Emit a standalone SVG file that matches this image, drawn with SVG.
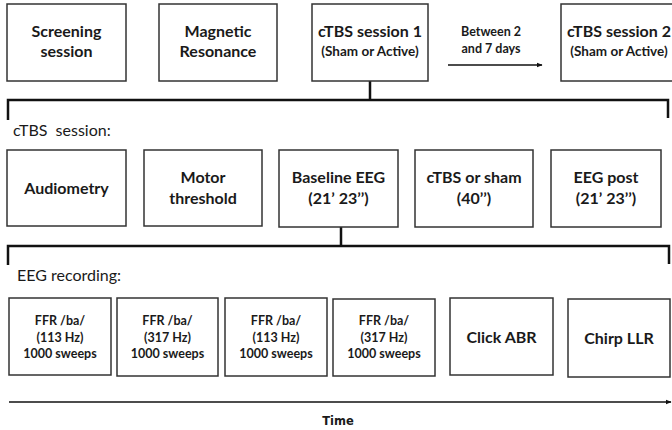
<svg xmlns="http://www.w3.org/2000/svg" width="672" height="430" viewBox="0 0 672 430">
  <defs>
    <style>
      .box { fill: #ffffff; stroke: #333333; stroke-width: 1.5; }
      .lbl { font-family: Lato, "Liberation Sans", sans-serif; font-weight: bold; fill: #1a1a1a; text-anchor: middle; }
      .big { font-size: 16px; }
      .mid { font-size: 13.5px; }
      .sm { font-size: 12.5px; }
      .sec { font-family: Lato, "Liberation Sans", sans-serif; font-size: 16px; fill: #1a1a1a; }
      .brk { fill: none; stroke: #111111; stroke-width: 2.5; }
      .ln { fill: none; stroke: #111111; stroke-width: 1.5; }
    </style>
    <marker id="arrow" viewBox="0 0 10 10" refX="9" refY="5" markerWidth="6" markerHeight="6" orient="auto" markerUnits="userSpaceOnUse">
      <path d="M0,1 L10,5 L0,9 z" fill="#111111"/>
    </marker>
  </defs>
  <rect width="672" height="430" fill="#ffffff"/>

  <!-- connectors -->
  <g id="connectors">
    <line class="ln" x1="448" y1="65" x2="542" y2="65" marker-end="url(#arrow)"/>
    <path class="brk" d="M370,81 V100 M8,120 V100 H668 V118"/>
    <path class="brk" d="M341,227 V246 M8,265 V246 H669 V264"/>
    <line class="ln" x1="9" y1="402" x2="671" y2="402" marker-end="url(#arrow)"/>
  </g>

  <!-- top row -->
  <g id="screening">
    <rect class="box" x="7" y="4" width="119" height="77"/>
    <text class="lbl big" x="66.5" y="37">Screening</text>
    <text class="lbl big" x="66.5" y="57">session</text>
  </g>
  <g id="mri">
    <rect class="box" x="159" y="4" width="118" height="77"/>
    <text class="lbl big" x="218" y="37">Magnetic</text>
    <text class="lbl big" x="218" y="57">Resonance</text>
  </g>
  <g id="ctbs1">
    <rect class="box" x="312" y="4" width="116" height="77"/>
    <text class="lbl big" x="370" y="37">cTBS session 1</text>
    <text class="lbl mid" x="370" y="56">(Sham or Active)</text>
  </g>
  <g id="interval">
    <text class="lbl sm" x="491" y="36">Between 2</text>
    <text class="lbl sm" x="491" y="53">and 7 days</text>
  </g>
  <g id="ctbs2">
    <rect class="box" x="561" y="4" width="116" height="77"/>
    <text class="lbl big" x="619" y="37">cTBS session 2</text>
    <text class="lbl mid" x="619" y="56">(Sham or Active)</text>
  </g>

  <text class="sec" x="13" y="136" font-size="17.5px" xml:space="preserve">cTBS  session:</text>

  <!-- cTBS session row -->
  <g id="audiometry">
    <rect class="box" x="7" y="150" width="119" height="76"/>
    <text class="lbl big" x="66.5" y="194">Audiometry</text>
  </g>
  <g id="motor">
    <rect class="box" x="144" y="150" width="118" height="76"/>
    <text class="lbl big" x="203" y="183">Motor</text>
    <text class="lbl big" x="203" y="204">threshold</text>
  </g>
  <g id="baseline">
    <rect class="box" x="279" y="150" width="119" height="77"/>
    <text class="lbl big" x="338.5" y="183">Baseline EEG</text>
    <text class="lbl big" x="338.5" y="204">(21’ 23’’)</text>
  </g>
  <g id="stim">
    <rect class="box" x="415" y="150" width="118" height="77"/>
    <text class="lbl big" x="474" y="183">cTBS or sham</text>
    <text class="lbl big" x="474" y="204">(40’’)</text>
  </g>
  <g id="post">
    <rect class="box" x="551" y="150" width="110" height="77"/>
    <text class="lbl big" x="606" y="183">EEG post</text>
    <text class="lbl big" x="606" y="204">(21’ 23’’)</text>
  </g>

  <text class="sec" x="17" y="281">EEG recording:</text>

  <!-- EEG recording row -->
  <g id="ffr1">
    <rect class="box" x="9" y="298" width="102" height="77"/>
    <text class="lbl sm" x="60" y="325">FFR /ba/</text>
    <text class="lbl sm" x="60" y="342">(113 Hz)</text>
    <text class="lbl sm" x="60" y="358">1000 sweeps</text>
  </g>
  <g id="ffr2">
    <rect class="box" x="117" y="298" width="101" height="78"/>
    <text class="lbl sm" x="167.5" y="325">FFR /ba/</text>
    <text class="lbl sm" x="167.5" y="342">(317 Hz)</text>
    <text class="lbl sm" x="167.5" y="358">1000 sweeps</text>
  </g>
  <g id="ffr3">
    <rect class="box" x="225" y="298" width="102" height="78"/>
    <text class="lbl sm" x="276" y="325">FFR /ba/</text>
    <text class="lbl sm" x="276" y="342">(113 Hz)</text>
    <text class="lbl sm" x="276" y="358">1000 sweeps</text>
  </g>
  <g id="ffr4">
    <rect class="box" x="333" y="299" width="102" height="77"/>
    <text class="lbl sm" x="384" y="325">FFR /ba/</text>
    <text class="lbl sm" x="384" y="342">(317 Hz)</text>
    <text class="lbl sm" x="384" y="358">1000 sweeps</text>
  </g>
  <g id="abr">
    <rect class="box" x="450" y="298" width="103" height="77"/>
    <text class="lbl big" x="501.5" y="343">Click ABR</text>
  </g>
  <g id="llr">
    <rect class="box" x="568" y="299" width="102" height="78"/>
    <text class="lbl big" x="619" y="344">Chirp LLR</text>
  </g>

  <text x="338" y="425" text-anchor="middle" font-family="DejaVu Sans, Verdana, sans-serif" font-weight="bold" font-size="11.5px" fill="#1a1a1a">Time</text>
</svg>
